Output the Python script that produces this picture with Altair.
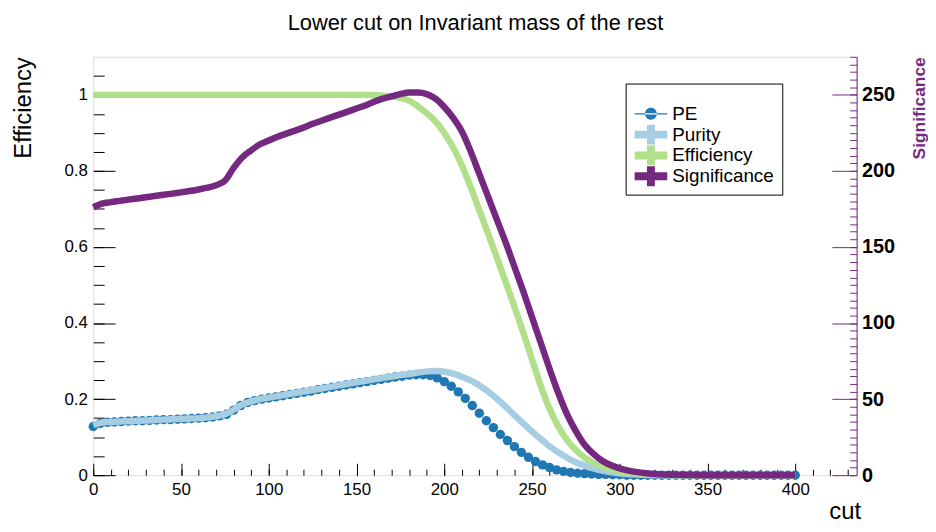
import altair as alt
import pandas as pd

# ---------------- data ----------------
cut_lines = list(range(0, 405, 5))

purity = [0.132, 0.138, 0.140, 0.141, 0.142, 0.143, 0.144, 0.145, 0.146, 0.147,
          0.148, 0.149, 0.150, 0.152, 0.155, 0.160, 0.172, 0.186, 0.194, 0.200,
          0.204, 0.208, 0.212, 0.216, 0.220, 0.224, 0.228, 0.232, 0.236, 0.240,
          0.244, 0.248, 0.252, 0.256, 0.259, 0.263, 0.266, 0.270, 0.273, 0.274,
          0.272, 0.267, 0.259, 0.249, 0.236, 0.220, 0.201, 0.180, 0.158, 0.136,
          0.115, 0.095, 0.076, 0.060, 0.046, 0.034, 0.025, 0.018, 0.012, 0.008,
          0.005, 0.003, 0.002, 0.001,
          0.0, 0.0, 0.0, 0.0, 0.0, 0.0, 0.0, 0.0, 0.0, 0.0, 0.0, 0.0, 0.0, 0.0,
          0.0, 0.0, 0.0]

efficiency = [1.0] * 31 + [
    1.0, 0.999, 0.998, 0.996, 0.992, 0.985, 0.970, 0.952, 0.930, 0.900,
    0.862, 0.815, 0.758, 0.697, 0.635, 0.572, 0.508, 0.443, 0.375, 0.305,
    0.235, 0.175, 0.128, 0.092, 0.066, 0.046, 0.032, 0.022, 0.015, 0.010,
    0.007, 0.005, 0.003, 0.002, 0.001] + [0.0] * 15

significance = [176, 178.5, 179.5, 180.3, 181.1, 181.9, 182.7, 183.5, 184.3, 185.1,
                185.9, 186.8, 187.8, 189, 190.6, 193.5, 202, 209, 213.5, 217.5,
                220, 222.5, 224.5, 226.5, 228.5, 231, 233, 235, 237, 239,
                241, 243, 245.5, 247.5, 249, 250.5, 251.5, 251.5, 250.5, 247.5,
                242, 235, 226, 213, 198, 183, 168, 153, 137, 121,
                104, 87, 70, 54, 40, 29, 20, 14, 9.5, 6.5,
                4.5, 3, 2, 1.3, 0.8, 0.5, 0.3, 0.2, 0.1,
                0, 0, 0, 0, 0, 0, 0, 0, 0, 0, 0, 0]

cut_pe = list(range(0, 404, 4))
pe = [0.128, 0.136, 0.139, 0.140, 0.141, 0.142, 0.143, 0.143, 0.144, 0.145,
      0.146, 0.146, 0.147, 0.148, 0.149, 0.150, 0.151, 0.153, 0.156, 0.160,
      0.171, 0.183, 0.191, 0.196, 0.200, 0.203, 0.206, 0.209, 0.212, 0.215,
      0.218, 0.221, 0.225, 0.228, 0.231, 0.234, 0.237, 0.240, 0.243, 0.246,
      0.249, 0.252, 0.255, 0.258, 0.260, 0.263, 0.264, 0.264, 0.262, 0.256,
      0.246, 0.234, 0.219, 0.202, 0.183, 0.163, 0.143, 0.125, 0.107, 0.091,
      0.075, 0.060, 0.047, 0.036, 0.027, 0.020, 0.014, 0.010, 0.007, 0.005,
      0.004, 0.003, 0.002, 0.002, 0.001, 0.001] + [0.0] * 25

series_names = ["PE", "Purity", "Efficiency", "Significance"]
series_colors = ["#1f78b4", "#a6cee3", "#b2df8a", "#75287f"]

title_text = "Lower cut on Invariant mass of the rest"

x_major_ticks = list(range(0, 401, 50))
x_minor_ticks = list(range(0, 431, 10))
eff_major_ticks = [0, 0.2, 0.4, 0.6, 0.8, 1.0]
eff_minor_ticks = [round(0.05 * i, 2) for i in range(22)]
sig_major_ticks = list(range(0, 251, 50))
sig_minor_ticks = list(range(0, 276, 5))

# ---------------- layout / style ----------------
W, H = 770, 422
FONT = "Liberation Sans"
PURPLE = series_colors[3]

line_df = pd.DataFrame({"cut": cut_lines, "purity": purity,
                        "efficiency": efficiency, "significance": significance})
pe_df = pd.DataFrame({"cut": cut_pe, "pe": pe})

x_scale = alt.Scale(domain=[0, 435], nice=False, zero=False)
eff_scale = alt.Scale(domain=[0, 1.1], nice=False, zero=True)
sig_scale = alt.Scale(domain=[0, 275], nice=False, zero=True)


def tick_axis(orient, offset, values, size, color="black"):
    return alt.Axis(orient=orient, offset=offset, values=values, ticks=True,
                    tickSize=size, tickColor=color, tickWidth=1, labels=False,
                    domain=False, grid=False, title=None)


x_main = alt.Axis(orient="bottom", values=x_major_ticks, ticks=False, domain=False,
                  grid=False, labelFont=FONT, labelFontSize=17, labelPadding=6,
                  labelColor="black", labelFlush=False, labelOverlap=False,
                  title="cut", titleFont=FONT, titleFontSize=24,
                  titleFontWeight="normal", titleColor="black", titleX=W + 4, titleY=44,
                  titleAlign="right", titleBaseline="alphabetic", titleAngle=0)

x_title_axis = alt.Axis(orient="top", ticks=False, labels=False, domain=False,
                        grid=False, title=title_text, titleFont=FONT,
                        titleFontSize=22, titleFontWeight="normal",
                        titleColor="black", titleX=W / 2, titleY=-28,
                        titleAlign="center", titleBaseline="alphabetic",
                        titleAngle=0)

y_main = alt.Axis(orient="left", values=eff_major_ticks, format="~g", ticks=False,
                  domain=False, grid=False, labelFont=FONT, labelFontSize=17,
                  labelPadding=6, labelColor="black", labelFlush=False,
                  labelOverlap=False, title="Efficiency", titleFont=FONT,
                  titleFontSize=24, titleFontWeight="normal", titleColor="black",
                  titleX=-70, titleY=0, titleAngle=270, titleAlign="right",
                  titleBaseline="middle")

sig_main = alt.Axis(orient="right", values=sig_major_ticks, format="d", ticks=False,
                    domain=True, domainColor=PURPLE, domainWidth=1, grid=False,
                    labelFont=FONT, labelFontSize=20, labelFontWeight="bold",
                    labelPadding=5, labelColor="black", labelFlush=False,
                    labelOverlap=False, title="Significance", titleFont=FONT,
                    titleFontSize=17.5, titleFontWeight="bold", titleColor=PURPLE,
                    titleX=63, titleY=0, titleAngle=270, titleAlign="right",
                    titleBaseline="middle")

pe_layer = alt.Chart(pe_df).mark_circle(size=90, color=series_colors[0], opacity=1).encode(
    x=alt.X("cut:Q", scale=x_scale, axis=x_main),
    y=alt.Y("pe:Q", scale=eff_scale, axis=y_main),
)

pur_layer = alt.Chart(line_df).mark_line(color=series_colors[1], strokeWidth=6.5,
                                         interpolate="monotone").encode(
    x=alt.X("cut:Q", scale=x_scale, axis=tick_axis("top", -H, x_major_ticks, 12)),
    y=alt.Y("purity:Q", scale=eff_scale, axis=tick_axis("right", -W, eff_major_ticks, 22)),
)

eff_layer = alt.Chart(line_df).mark_line(color=series_colors[2], strokeWidth=6.5,
                                         interpolate="monotone").encode(
    x=alt.X("cut:Q", scale=x_scale, axis=tick_axis("top", -H, x_minor_ticks, 6)),
    y=alt.Y("efficiency:Q", scale=eff_scale, axis=tick_axis("right", -W, eff_minor_ticks, 11)),
)

sig_layer = alt.Chart(line_df).mark_line(color=PURPLE, strokeWidth=6.5,
                                         interpolate="monotone").encode(
    x=alt.X("cut:Q", scale=x_scale, axis=x_title_axis),
    y=alt.Y("significance:Q", scale=sig_scale, axis=sig_main),
)

sig_tick_major = alt.Chart(line_df).mark_line(opacity=0).encode(
    x=alt.X("cut:Q", scale=x_scale, axis=None),
    y=alt.Y("significance:Q", scale=sig_scale,
            axis=tick_axis("left", -W, sig_major_ticks, 25, PURPLE)),
)

sig_tick_minor = alt.Chart(line_df).mark_line(opacity=0).encode(
    x=alt.X("cut:Q", scale=x_scale, axis=None),
    y=alt.Y("significance:Q", scale=sig_scale,
            axis=tick_axis("left", -W, sig_minor_ticks, 7, PURPLE)),
)

cross = "M-2.06,-0.5H2.06V0.5H-2.06Z M-0.5,-1.25H0.5V1.25H-0.5Z"
pe_sym = ("M-0.75,0A0.75,0.75 0 1 0 0.75,0A0.75,0.75 0 1 0 -0.75,0Z "
          "M-2.06,-0.08H2.06V0.08H-2.06Z")
series_shapes = [pe_sym, cross, cross, cross]

leg = alt.Legend(orient="none", legendX=537, legendY=27, title=" ",
                 titleFontSize=10, titlePadding=3, strokeColor="black",
                 fillColor="white", padding=8, symbolOffset=8, labelOffset=12,
                 symbolSize=256, symbolStrokeWidth=0, symbolOpacity=1,
                 rowPadding=0, labelFont=FONT, labelFontSize=19,
                 labelColor="black", cornerRadius=0)

legend_layer = alt.Chart(pe_df).transform_filter("false").mark_point(
    filled=True, opacity=1).encode(
    color=alt.Color("series:N", scale=alt.Scale(domain=series_names, range=series_colors),
                    legend=leg),
    shape=alt.Shape("series:N", scale=alt.Scale(domain=series_names, range=series_shapes),
                    legend=leg),
)

chart = alt.layer(
    pe_layer, pur_layer, eff_layer, sig_layer, sig_tick_major, sig_tick_minor, legend_layer
).resolve_scale(
    y="independent"
).resolve_axis(
    x="independent", y="independent"
).properties(
    width=W, height=H,
    autosize=alt.AutoSizeParams(type="none"),
    padding={"left": 86, "top": 47, "right": 72, "bottom": 46},
).configure_view(
    stroke="black", strokeWidth=1
).configure(
    font=FONT, background="white"
)

chart.save("out.html", embed_options={"renderer": "svg", "actions": False})
